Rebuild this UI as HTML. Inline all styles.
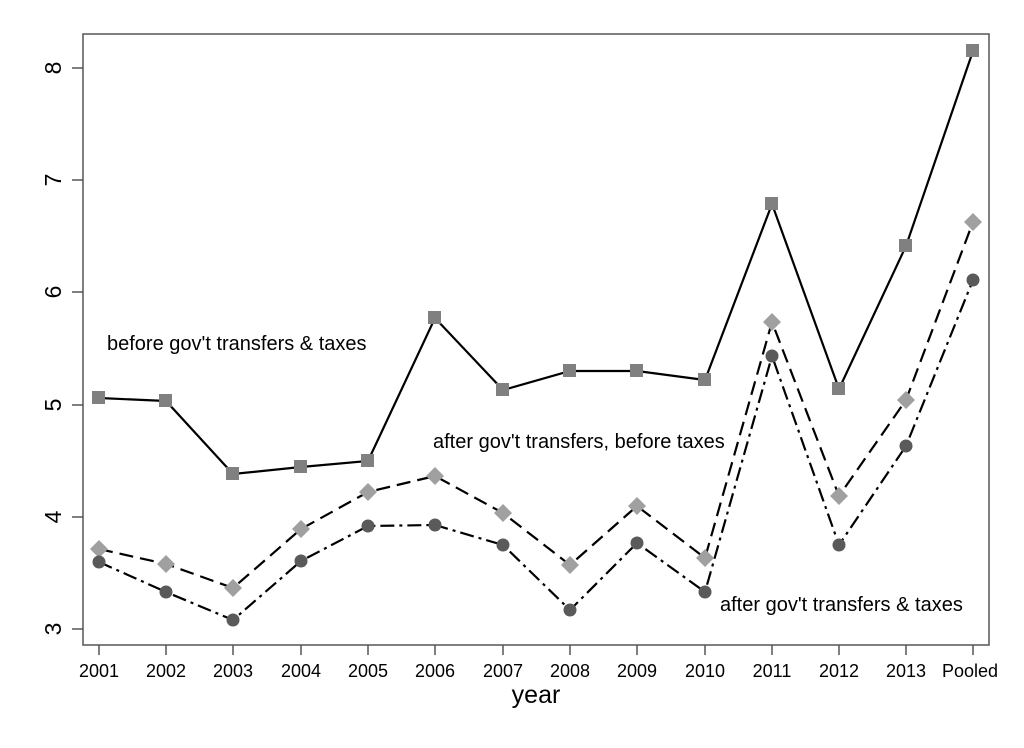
<!DOCTYPE html>
<html><head><meta charset="utf-8"><style>body{margin:0;background:#fff}svg{display:block}</style></head><body>
<svg width="1024" height="748" xmlns="http://www.w3.org/2000/svg" font-family="Liberation Sans, sans-serif">
<rect x="0" y="0" width="1024" height="748" fill="#fff"/>
<rect x="83" y="34" width="906" height="611" fill="none" stroke="#555" stroke-width="1.5"/>
<g stroke="#555" stroke-width="1.5">
<line x1="72" y1="68" x2="83" y2="68"/><line x1="72" y1="180" x2="83" y2="180"/><line x1="72" y1="292" x2="83" y2="292"/><line x1="72" y1="405" x2="83" y2="405"/><line x1="72" y1="517" x2="83" y2="517"/><line x1="72" y1="629" x2="83" y2="629"/>
</g>
<g font-size="23" text-anchor="middle">
<text transform="translate(61,68) rotate(-90)">8</text>
<text transform="translate(61,180) rotate(-90)">7</text>
<text transform="translate(61,292) rotate(-90)">6</text>
<text transform="translate(61,405) rotate(-90)">5</text>
<text transform="translate(61,517) rotate(-90)">4</text>
<text transform="translate(61,629) rotate(-90)">3</text>
</g>
<g stroke="#555" stroke-width="1.5">
<line x1="99" y1="645" x2="99" y2="655"/><line x1="166" y1="645" x2="166" y2="655"/><line x1="233" y1="645" x2="233" y2="655"/><line x1="301" y1="645" x2="301" y2="655"/><line x1="368" y1="645" x2="368" y2="655"/><line x1="435" y1="645" x2="435" y2="655"/><line x1="503" y1="645" x2="503" y2="655"/><line x1="570" y1="645" x2="570" y2="655"/><line x1="637" y1="645" x2="637" y2="655"/><line x1="705" y1="645" x2="705" y2="655"/><line x1="772" y1="645" x2="772" y2="655"/><line x1="839" y1="645" x2="839" y2="655"/><line x1="906" y1="645" x2="906" y2="655"/><line x1="973" y1="645" x2="973" y2="655"/>
</g>
<g font-size="18" text-anchor="middle">
<text x="99" y="677">2001</text><text x="166" y="677">2002</text><text x="233" y="677">2003</text><text x="301" y="677">2004</text><text x="368" y="677">2005</text><text x="435" y="677">2006</text><text x="503" y="677">2007</text><text x="570" y="677">2008</text><text x="637" y="677">2009</text><text x="705" y="677">2010</text><text x="772" y="677">2011</text><text x="839" y="677">2012</text><text x="906" y="677">2013</text><text x="970" y="677">Pooled</text>
</g>
<text x="536" y="703" font-size="25" text-anchor="middle">year</text>
<g font-size="20">
<text x="107" y="350">before gov't transfers &amp; taxes</text>
<text x="433" y="448">after gov't transfers, before taxes</text>
<text x="720" y="611">after gov't transfers &amp; taxes</text>
</g>
<polyline fill="none" stroke="#000" stroke-width="2.2" points="99,398 166,401 233,474 301,467 368,461 435,318 503,390 570,371 637,371 705,380 772,204 839,389 906,246 973,51"/>
<polyline fill="none" stroke="#000" stroke-width="2.2" stroke-dasharray="14,7" points="99,549 166,564 233,588 301,529 368,492 435,476 503,513 570,565 637,506 705,558 772,322 839,496 906,400 973,222"/>
<polyline fill="none" stroke="#000" stroke-width="2.2" stroke-dasharray="14,5,3,5" points="99,562 166,592 233,620 301,561 368,526 435,525 503,545 570,610 637,543 705,592 772,356 839,545 906,446 973,280"/>
<g fill="#808080">
<rect x="92" y="391" width="13" height="13"/><rect x="159" y="394" width="13" height="13"/><rect x="226" y="467" width="13" height="13"/><rect x="294" y="460" width="13" height="13"/><rect x="361" y="454" width="13" height="13"/><rect x="428" y="311" width="13" height="13"/><rect x="496" y="383" width="13" height="13"/><rect x="563" y="364" width="13" height="13"/><rect x="630" y="364" width="13" height="13"/><rect x="698" y="373" width="13" height="13"/><rect x="765" y="197" width="13" height="13"/><rect x="832" y="382" width="13" height="13"/><rect x="899" y="239" width="13" height="13"/><rect x="966" y="44" width="13" height="13"/>
</g>
<g fill="#a0a0a0">
<path d="M99,540l9,9l-9,9l-9,-9z"/><path d="M166,555l9,9l-9,9l-9,-9z"/><path d="M233,579l9,9l-9,9l-9,-9z"/><path d="M301,520l9,9l-9,9l-9,-9z"/><path d="M368,483l9,9l-9,9l-9,-9z"/><path d="M435,467l9,9l-9,9l-9,-9z"/><path d="M503,504l9,9l-9,9l-9,-9z"/><path d="M570,556l9,9l-9,9l-9,-9z"/><path d="M637,497l9,9l-9,9l-9,-9z"/><path d="M705,549l9,9l-9,9l-9,-9z"/><path d="M772,313l9,9l-9,9l-9,-9z"/><path d="M839,487l9,9l-9,9l-9,-9z"/><path d="M906,391l9,9l-9,9l-9,-9z"/><path d="M973,213l9,9l-9,9l-9,-9z"/>
</g>
<g fill="#5a5a5a">
<circle cx="99" cy="562" r="6.5"/><circle cx="166" cy="592" r="6.5"/><circle cx="233" cy="620" r="6.5"/><circle cx="301" cy="561" r="6.5"/><circle cx="368" cy="526" r="6.5"/><circle cx="435" cy="525" r="6.5"/><circle cx="503" cy="545" r="6.5"/><circle cx="570" cy="610" r="6.5"/><circle cx="637" cy="543" r="6.5"/><circle cx="705" cy="592" r="6.5"/><circle cx="772" cy="356" r="6.5"/><circle cx="839" cy="545" r="6.5"/><circle cx="906" cy="446" r="6.5"/><circle cx="973" cy="280" r="6.5"/>
</g>
</svg>
</body></html>
